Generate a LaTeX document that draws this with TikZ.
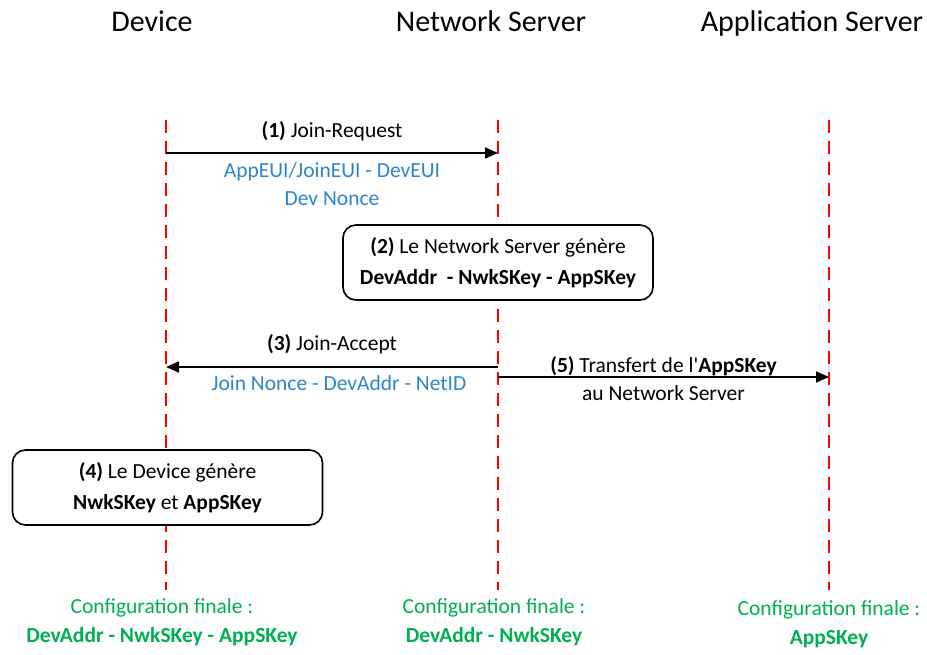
\documentclass[tikz,border=0pt]{standalone}
\usepackage{fontspec}
\setmainfont{Carlito}
\usetikzlibrary{arrows.meta,positioning}
\definecolor{LifeRed}{HTML}{FF0000}
\definecolor{MsgBlue}{HTML}{2E86C8}
\definecolor{CfgGreen}{HTML}{00B050}

\begin{document}
\begin{tikzpicture}[x=1pt,y=-1pt,
    every node/.style={font=\fontsize{21.5}{28}\selectfont,inner sep=0pt},
    actor/.style={anchor=base,font=\fontsize{30}{36}\selectfont},
    lifeline/.style={draw=LifeRed,line width=2.8pt,dash pattern=on 13pt off 8pt},
    msg/.style={line width=1.6pt,-{Triangle[length=13pt,width=11pt]}},
    genbox/.style={draw,fill=white,line width=1.6pt,rounded corners=13pt,minimum width=310pt,minimum height=75pt,align=center,font=\fontsize{21.5}{31}\selectfont},
    info/.style={text=MsgBlue,align=center},
    final/.style={text=CfgGreen,align=center,font=\fontsize{21.5}{29}\selectfont}]
  \useasboundingbox (0,0) rectangle (927,655);
  % actors
  \node[actor] (dev) at (152,32) {Device};
  \node[actor] (ns) at (491,32) {Network Server};
  \node[actor] (as) at (812,32) {Application Server};
  % lifelines
  \coordinate (devtop) at (166,120);
  \coordinate (devbot) at (166,590);
  \coordinate (nstop) at (498,120);
  \coordinate (nsbot) at (498,590);
  \coordinate (astop) at (829,120);
  \coordinate (asbot) at (829,590);
  \draw[lifeline] (devtop) -- (devbot);
  \draw[lifeline] (nstop) -- (nsbot);
  \draw[lifeline] (astop) -- (asbot);
  % (1) join request
  \coordinate (d1) at (166,153);
  \coordinate (n1) at (498,153);
  \draw[msg] (d1) -- node[midway,yshift=22pt] (jreq) {\textbf{(1)} Join-Request}
    node[info,midway,yshift=-31pt] (jreqinfo) {AppEUI/JoinEUI - DevEUI\\Dev Nonce} (n1);
  % (2) keys on the network server
  \node[genbox] (nsgen) at (498,262.5) {\textbf{(2)} Le Network Server génère\\\textbf{DevAddr \ - NwkSKey - AppSKey}};
  % (3) join accept
  \coordinate (n3) at (498,367);
  \coordinate (d3) at (166,367);
  \draw[msg] (n3) -- node[midway,yshift=23pt] (jacc) {\textbf{(3)} Join-Accept}
    node[info,midway,xshift=7pt,yshift=-16pt] (jaccinfo) {Join Nonce - DevAddr - NetID} (d3);
  % (5) transfer to the application server
  \coordinate (n5) at (498,377);
  \coordinate (a5) at (829,377);
  \draw[msg] (n5) -- node[midway,yshift=11pt] (xfer) {\textbf{(5)} Transfert de l\textquotesingle\textbf{AppSKey}}
    node[midway,yshift=-16pt] (xfer2) {au Network Server} (a5);
  % (4) keys on the device
  \node[genbox] (devgen) at (167.5,487.5) {\textbf{(4)} Le Device génère\\\textbf{NwkSKey} et \textbf{AppSKey}};
  % final configuration
  \node[final] (devcfg) at (162,622) {Configuration finale :\\\textbf{DevAddr - NwkSKey - AppSKey}};
  \node[final] (nscfg) at (494,622) {Configuration finale :\\\textbf{DevAddr - NwkSKey}};
  \node[final] (ascfg) at (829,624) {Configuration finale :\\\textbf{AppSKey}};
\end{tikzpicture}
\end{document}
